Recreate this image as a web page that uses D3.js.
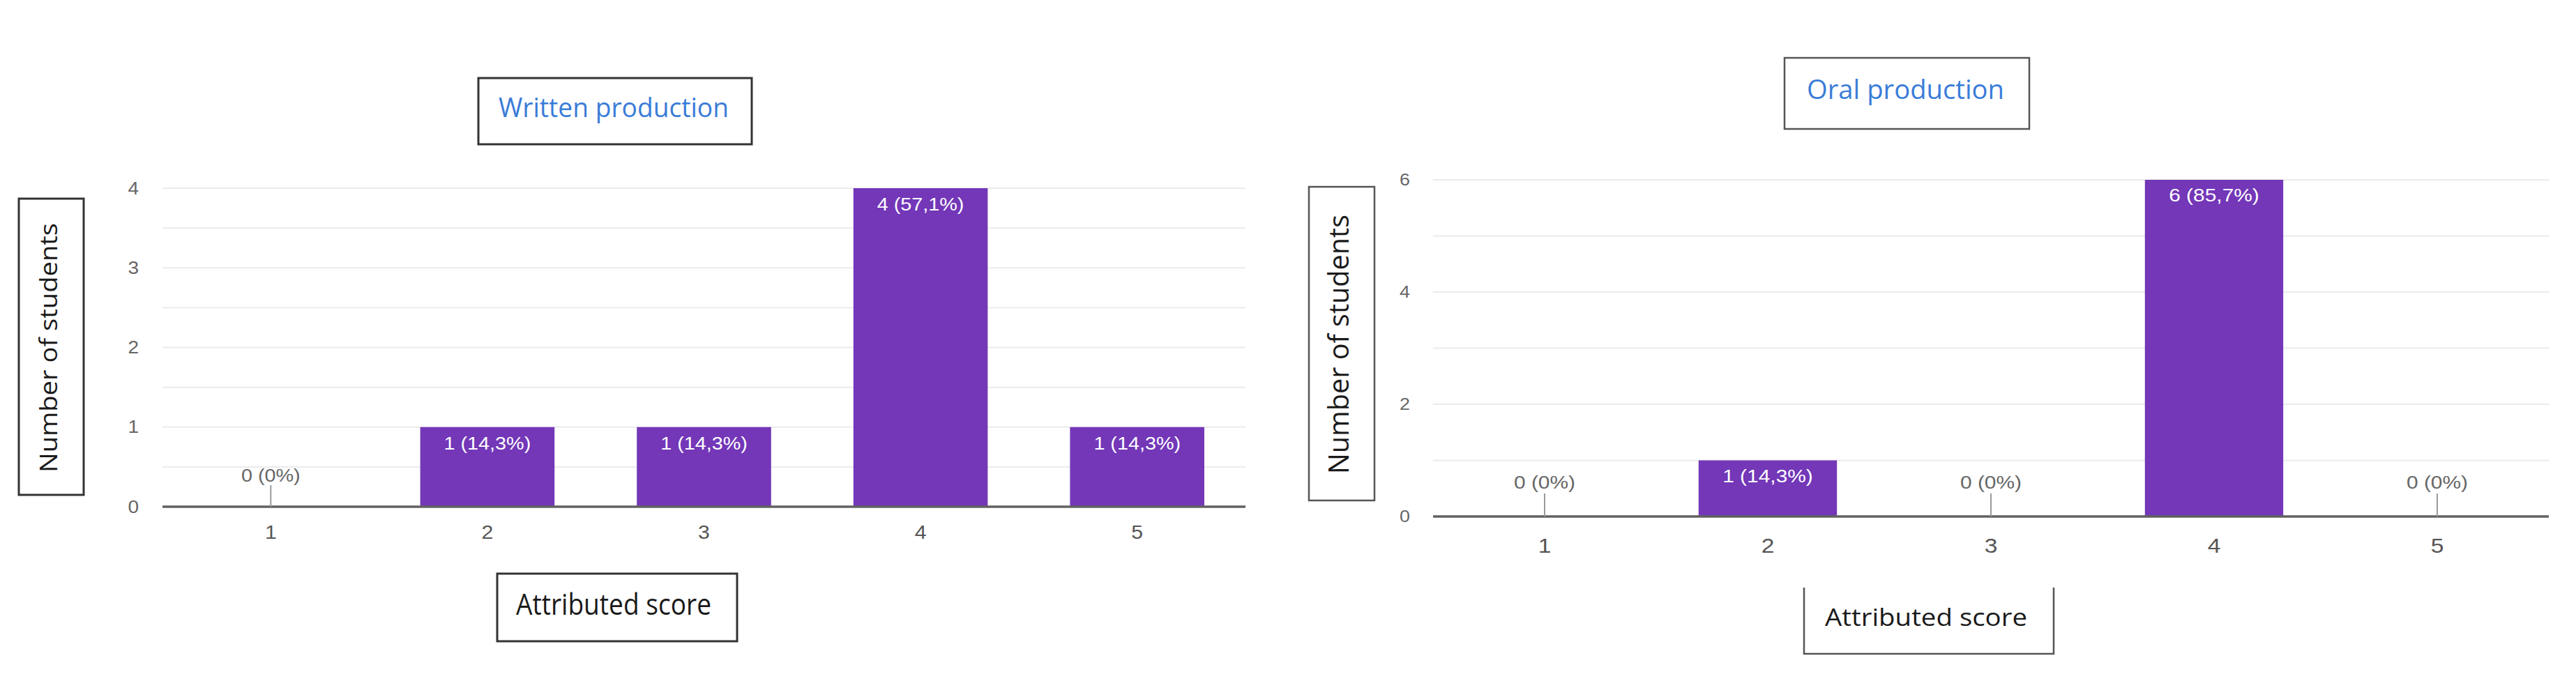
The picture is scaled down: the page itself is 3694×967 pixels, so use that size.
<!DOCTYPE html>
<html>
<head>
<meta charset="utf-8">
<script src="https://cdn.jsdelivr.net/npm/d3@7/dist/d3.min.js"></script>
<style>
  html, body { margin: 0; padding: 0; background: #fff; }
  svg { display: block; }
</style>
</head>
<body>
<svg id="chart" width="3694" height="967"></svg>
<script>
// ---------------- DATA ----------------
const categories = ["1", "2", "3", "4", "5"];
const writtenValues = [0, 1, 1, 4, 1];
const writtenLabels = ["0 (0%)", "1 (14,3%)", "1 (14,3%)", "4 (57,1%)", "1 (14,3%)"];
const writtenTicks = [0, 1, 2, 3, 4];
const writtenGrid = [0.5, 1, 1.5, 2, 2.5, 3, 3.5, 4];
const oralValues = [0, 1, 0, 6, 0];
const oralLabels = ["0 (0%)", "1 (14,3%)", "0 (0%)", "6 (85,7%)", "0 (0%)"];
const oralTicks = [0, 2, 4, 6];
const oralGrid = [1, 2, 3, 4, 5, 6];
const writtenTitle = "Written production";
const oralTitle = "Oral production";
const xTitle = "Attributed score";
const yTitle = "Number of students";

// ---------------- LAYOUT ----------------
const svg = d3.select("#chart");
svg.append("rect").attr("width", 3694).attr("height", 967).attr("fill", "#fff");

const BAR = "#7337b8";
const ARIAL = "'Liberation Sans', Arial, sans-serif";
const HUMAN = "'Open Sans', 'Noto Sans', sans-serif";

function stretch(sel, k) {
  sel.each(function () {
    const w = this.getComputedTextLength();
    this.setAttribute("textLength", w * k);
    this.setAttribute("lengthAdjust", "spacingAndGlyphs");
  });
}
function fitText(sel, len) {
  sel.attr("textLength", len).attr("lengthAdjust", "spacingAndGlyphs");
}

function drawChart(cfg) {
  const g = svg.append("g");
  const x = d3.scaleBand().domain(categories)
    .range([cfg.left, cfg.right]).paddingInner(0.38).paddingOuter(0.19);
  const y = d3.scaleLinear().domain([0, cfg.yMax]).range([cfg.y0, cfg.yTop]);

  // gridlines
  g.selectAll(".grid").data(cfg.grid).join("line")
    .attr("x1", cfg.left).attr("x2", cfg.right)
    .attr("y1", d => y(d)).attr("y2", d => y(d))
    .attr("stroke", "#ebebeb").attr("stroke-width", 2);

  // bars
  g.selectAll(".bar").data(cfg.values).join("rect")
    .attr("x", (d, i) => x(categories[i]))
    .attr("width", x.bandwidth())
    .attr("y", d => y(d))
    .attr("height", d => y(0) - y(d))
    .attr("fill", BAR);

  // baseline
  g.append("line").attr("x1", cfg.left).attr("x2", cfg.right)
    .attr("y1", y(0)).attr("y2", y(0))
    .attr("stroke", "#626262").attr("stroke-width", 3.5);

  // zero leader lines
  cfg.values.forEach((v, i) => {
    if (v === 0) {
      const cx = x(categories[i]) + x.bandwidth() / 2;
      g.append("line").attr("x1", cx).attr("x2", cx)
        .attr("y1", y(0)).attr("y2", y(0) - cfg.leader)
        .attr("stroke", "#9a9a9a").attr("stroke-width", 2);
    }
  });

  // value labels
  const lab = g.selectAll(".lab").data(cfg.values).join("text")
    .attr("x", (d, i) => x(categories[i]) + x.bandwidth() / 2)
    .attr("y", d => d === 0 ? y(0) - cfg.zeroLabelOff : y(d) + cfg.inLabelOff)
    .attr("text-anchor", "middle")
    .attr("font-family", ARIAL)
    .attr("font-size", cfg.labelSize)
    .attr("fill", d => d === 0 ? "#666" : "#fff")
    .text((d, i) => cfg.labels[i]);
  stretch(lab, 1.15);

  // x axis
  const xa = g.append("g").attr("transform", `translate(0,${y(0)})`)
    .call(d3.axisBottom(x).tickSize(0).tickPadding(cfg.xPad));
  xa.select(".domain").remove();
  const xt = xa.selectAll("text").attr("font-family", ARIAL)
    .attr("font-size", cfg.xTickSize).attr("fill", "#555");
  stretch(xt, 1.12);

  // y axis
  const ya = g.append("g").attr("transform", `translate(${cfg.left},0)`)
    .call(d3.axisLeft(y).tickValues(cfg.ticks).tickSize(0).tickPadding(cfg.yPad).tickFormat(d3.format("d")));
  ya.select(".domain").remove();
  const yt = ya.selectAll("text").attr("font-family", ARIAL)
    .attr("font-size", cfg.yTickSize).attr("fill", "#666");
  stretch(yt, 1.12);

  // title box
  const tb = cfg.titleBox;
  g.append("rect").attr("x", tb[0]).attr("y", tb[1]).attr("width", tb[2] - tb[0]).attr("height", tb[3] - tb[1])
    .attr("fill", "#fff").attr("stroke", cfg.boxStroke).attr("stroke-width", cfg.boxW);
  g.append("text").attr("x", cfg.titleText[0]).attr("y", cfg.titleText[1])
    .attr("font-family", HUMAN).attr("font-size", 38).attr("fill", "#3a7cd8")
    .text(cfg.title).call(fitText, cfg.titleText[2]);

  // x title box
  const xb = cfg.xBox;
  if (cfg.xBoxOpenTop) {
    g.append("path")
      .attr("d", `M${xb[0]},${xb[1]}L${xb[0]},${xb[3]}L${xb[2]},${xb[3]}L${xb[2]},${xb[1]}`)
      .attr("fill", "none").attr("stroke", cfg.boxStroke).attr("stroke-width", cfg.boxW);
  } else {
    g.append("rect").attr("x", xb[0]).attr("y", xb[1]).attr("width", xb[2] - xb[0]).attr("height", xb[3] - xb[1])
      .attr("fill", "#fff").attr("stroke", cfg.boxStroke).attr("stroke-width", cfg.boxW);
  }
  g.append("text").attr("x", cfg.xText[0]).attr("y", cfg.xText[1])
    .attr("font-family", HUMAN).attr("font-size", cfg.xText[3]).attr("fill", "#1a1a1a")
    .text(xTitle).call(fitText, cfg.xText[2]);

  // y title box
  const yb = cfg.yBox;
  g.append("rect").attr("x", yb[0]).attr("y", yb[1]).attr("width", yb[2] - yb[0]).attr("height", yb[3] - yb[1])
    .attr("fill", "#fff").attr("stroke", cfg.boxStroke).attr("stroke-width", cfg.boxW);
  g.append("text")
    .attr("transform", `translate(${cfg.yText[0]},${cfg.yText[1]}) rotate(-90)`)
    .attr("font-family", HUMAN).attr("font-size", cfg.yText[3]).attr("fill", "#1a1a1a")
    .text(yTitle).call(fitText, cfg.yText[2]);
}

drawChart({
  values: writtenValues, labels: writtenLabels, ticks: writtenTicks, grid: writtenGrid,
  yMax: 4, left: 233, right: 1786, y0: 727, yTop: 270,
  leader: 31, zeroLabelOff: 36, inLabelOff: 32, labelSize: 25,
  xPad: 27, xTickSize: 27, yPad: 34, yTickSize: 25,
  title: writtenTitle, titleBox: [686, 112, 1078, 207], titleText: [715, 168, 330],
  boxStroke: "#333", boxW: 3,
  xBox: [713, 823, 1057, 920], xBoxOpenTop: false, xText: [740, 882, 280, 42],
  yBox: [27, 285, 120, 710], yText: [82, 678, 358, 35]
});

drawChart({
  values: oralValues, labels: oralLabels, ticks: oralTicks, grid: oralGrid,
  yMax: 6, left: 2055, right: 3655, y0: 741, yTop: 258,
  leader: 33, zeroLabelOff: 40, inLabelOff: 31, labelSize: 26,
  xPad: 31, xTickSize: 30, yPad: 33, yTickSize: 24,
  title: oralTitle, titleBox: [2559, 83, 2910, 185], titleText: [2591, 142, 283],
  boxStroke: "#555", boxW: 2.5,
  xBox: [2587, 843, 2945, 938], xBoxOpenTop: true, xText: [2617, 898, 290, 35],
  yBox: [1877, 268, 1971, 718], yText: [1934, 680, 372, 40]
});
</script>
</body>
</html>
